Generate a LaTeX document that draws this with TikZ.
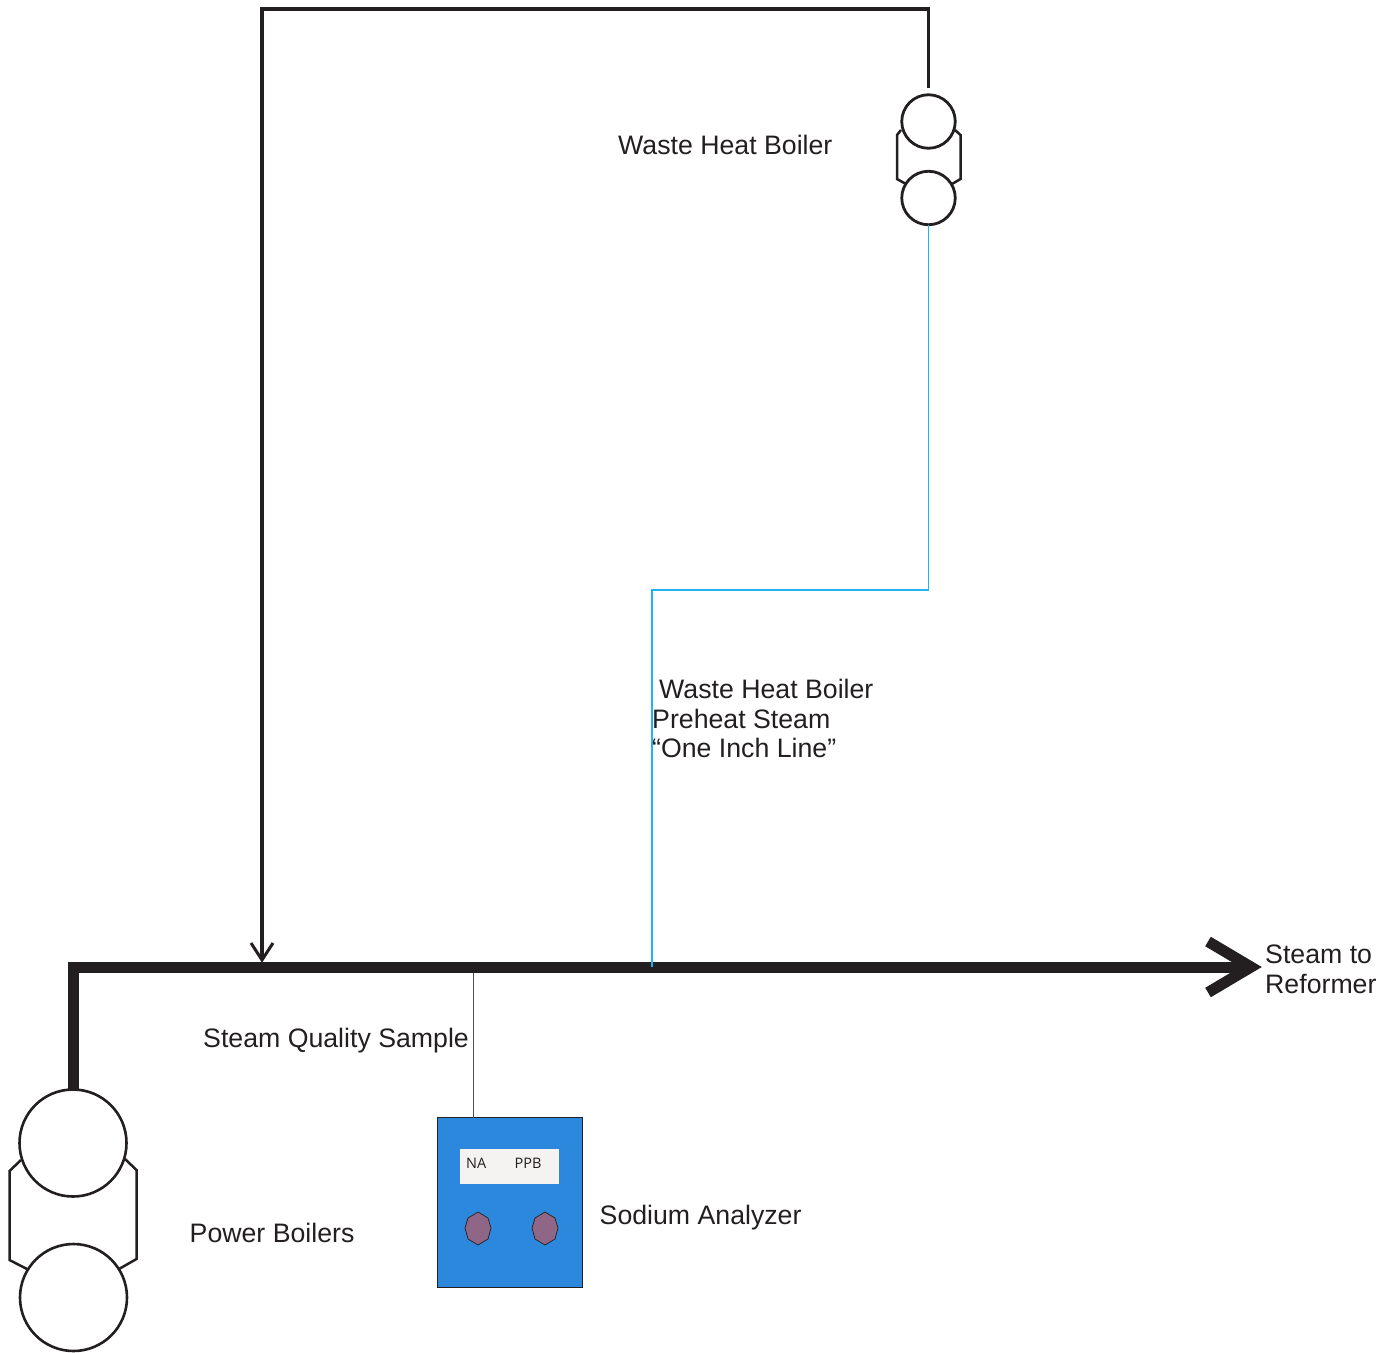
\documentclass[tikz,border=0pt]{standalone}
\usepackage{fontspec}
\setmainfont{Liberation Sans}
\newfontfamily\panelfont{Open Sans}
\definecolor{linedark}{HTML}{231F20}
\definecolor{steamblue}{HTML}{1FB4EC}
\definecolor{panelblue}{HTML}{2B88DC}
\definecolor{panelwhite}{HTML}{F5F3F1}
\definecolor{knobpurple}{HTML}{8F6685}
\begin{document}
\begin{tikzpicture}[
x=1pt,y=-1pt,
font=\fontsize{26.7}{29.6}\selectfont,
label/.style={
inner sep=0pt,
anchor=base west,
text=linedark
},
bigdrum/.style={
circle,
draw=linedark,
line width=2.6pt,
fill=white,
inner sep=0pt,
outer sep=0pt,
minimum size=107pt
},
smalldrum/.style={
circle,
draw=linedark,
line width=2.8pt,
fill=white,
inner sep=0pt,
outer sep=0pt,
minimum size=53.5pt
},
shell/.style={
draw=linedark,
line width=2.5pt
},
knob/.style={
draw=linedark,
line width=0.7pt,
fill=knobpurple
}
]
\useasboundingbox (0,0) rectangle (1383,1352);

% Boilers
\node[smalldrum] (wastetop) at (928.5,121.5) {};
\node[smalldrum] (wastebottom) at (928.5,198) {};
\node[bigdrum] (powertop) at (73,1143) {};
\node[bigdrum] (powerbottom) at (73.5,1297.5) {};

\draw[shell] (901,130) -- (897,135) -- (897,179) -- (906,184);
\draw[shell] (955,130) -- (960.5,135) -- (960.5,179) -- (952,184);
\draw[shell] (21,1160) -- (9.5,1171) -- (9.5,1260) -- (27,1269);
\draw[shell] (125,1159) -- (136.5,1170) -- (136.5,1259) -- (119,1269);

% Analyzer
\node[draw=linedark,line width=0.9pt,fill=panelblue,minimum width=145pt,minimum height=169.5pt,inner sep=0pt,outer sep=0pt] (analyzer) at (509.5,1202.5) {};
\node[fill=panelwhite,minimum width=99pt,minimum height=35pt,inner sep=0pt] (display) at (509.5,1166.5) {};
\node[label,font=\panelfont\fontsize{14.5}{17}\selectfont] (na) at (466,1168) {NA};
\node[label,font=\panelfont\fontsize{14.5}{17}\selectfont] (ppb) at (514.5,1168) {PPB};
\foreach \cx in {478,545} {
\draw[knob] (\cx+13,1228) -- (\cx+10,1218) -- (\cx+0,1212) -- (\cx-10,1218) -- (\cx-13,1228) -- (\cx-10,1239) -- (\cx+0,1245) -- (\cx+10,1239) -- cycle;
}

% Line ends and junctions
\coordinate (wastein) at (928.5,88);
\coordinate (mergetip) at (262,960);
\coordinate (reformertip) at (1251,967);
\coordinate (bluejoin) at (652,967);
\coordinate (samplejoin) at (473,972);

% Sample line
\draw[linedark!80,line width=1pt] (samplejoin) -- (analyzer.north -| samplejoin);

% Main steam line
\draw[linedark,line width=11pt] (powertop.north) |- (reformertip);
\draw[linedark,line width=11pt] (1208,941.5) -- (reformertip) -- (1208,992.5);

% Blue preheat line
\draw[steamblue,line width=1.1pt] (wastebottom.south) -- (928.5,590) -- (652,590) -- (bluejoin);

% Waste heat boiler outlet
\draw[linedark,line width=3.8pt] (wastein) |- (262,9) -- (mergetip);
\draw[linedark,line width=3pt] (251,943) -- (mergetip) -- (273,943);

% Labels
\node[label] (wastelabel) at (618,154) {Waste Heat Boiler};
\node[label,align=left,anchor=north west] (preheat) at (652,679) {\hspace{7pt}Waste Heat Boiler\\Preheat Steam\\“One Inch Line”};
\node[label,align=left,anchor=north west] (reformer) at (1265,945) {Steam to\\Reformer};
\node[label] (sample) at (203,1047) {Steam Quality Sample};
\node[label] (powerlabel) at (189.5,1242) {Power Boilers};
\node[label] (analyzerlabel) at (599.5,1224) {Sodium Analyzer};

\end{tikzpicture}
\end{document}
